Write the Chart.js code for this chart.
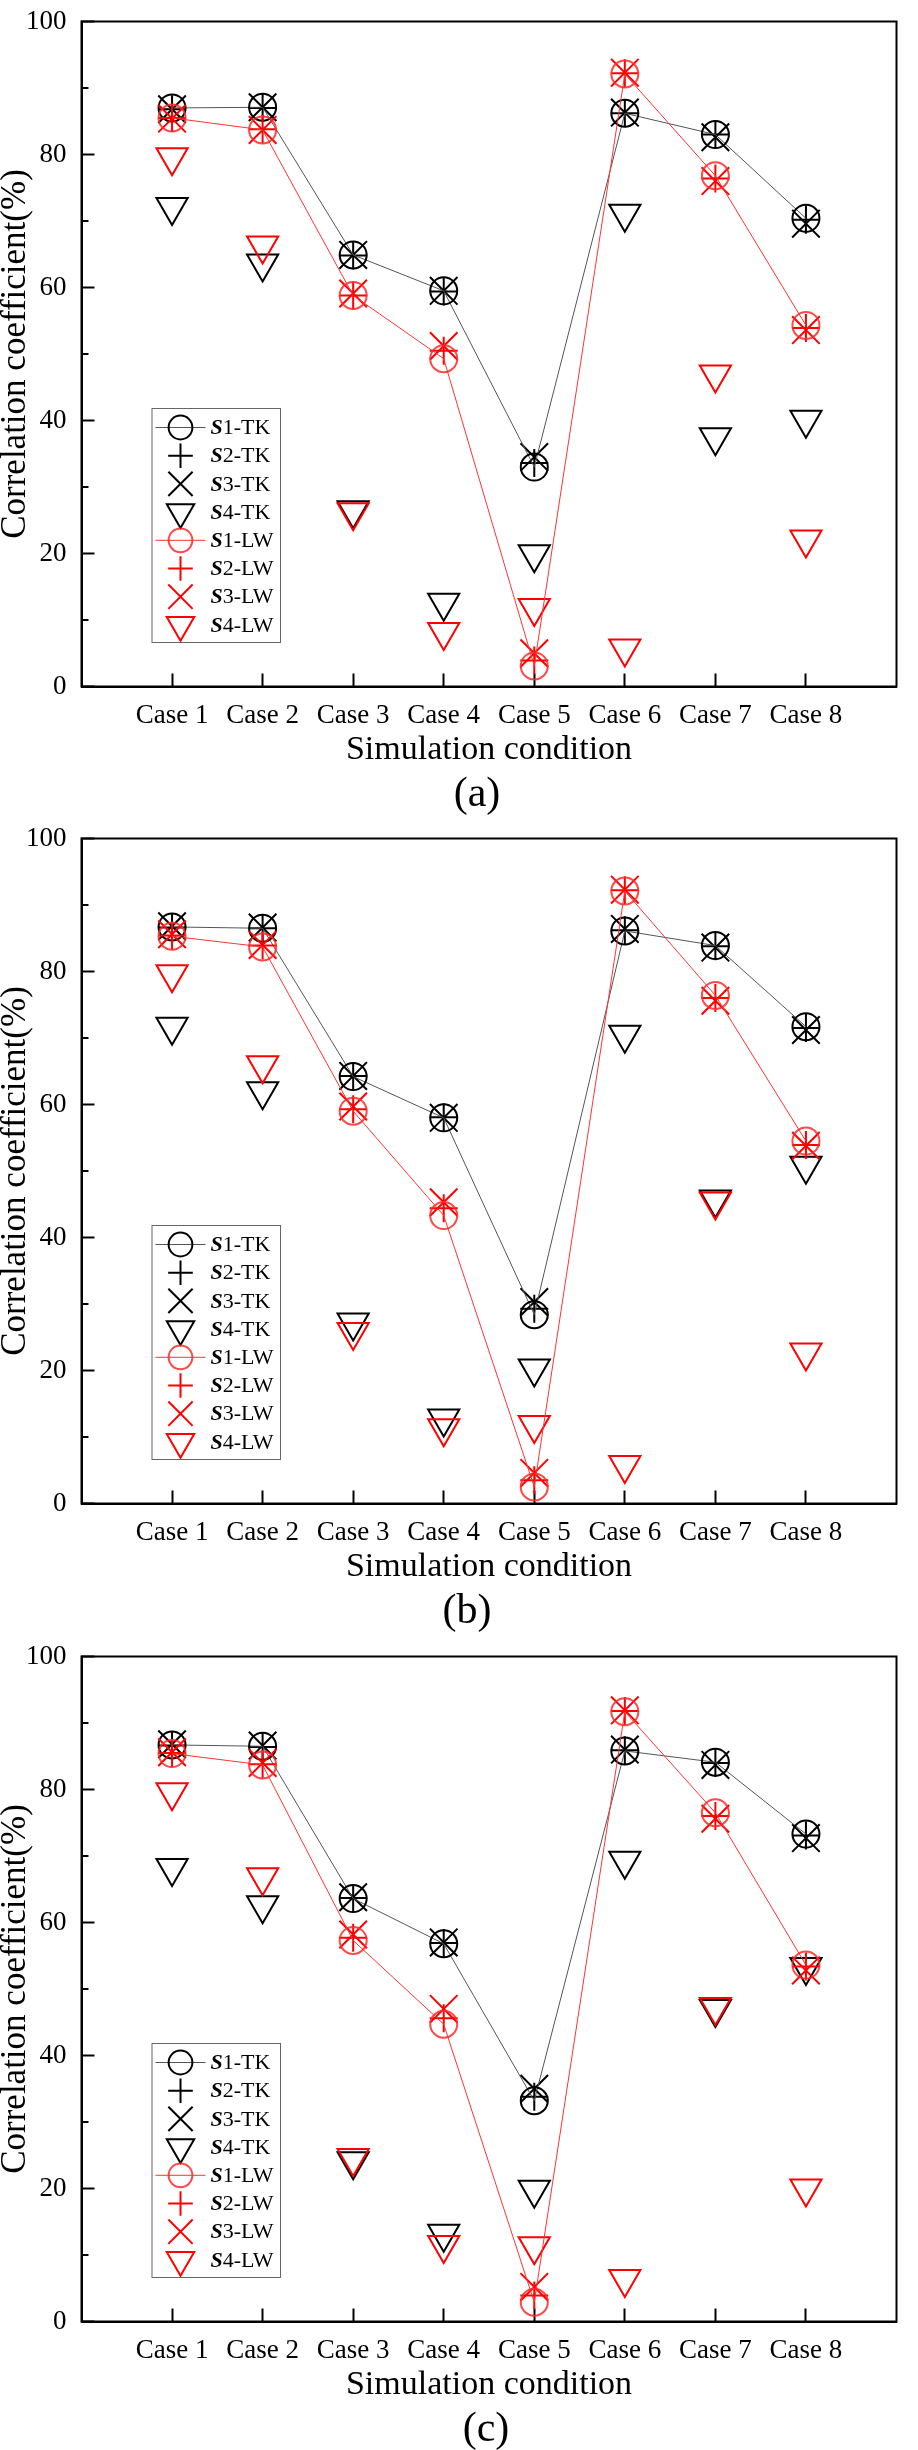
<!DOCTYPE html>
<html>
<head>
<meta charset="utf-8">
<script src="https://cdn.jsdelivr.net/npm/chart.js@4.4.1/dist/chart.umd.min.js"></script>
<style>
  html, body { margin: 0; padding: 0; background: #fff; }
  body { width: 918px; height: 2450px; overflow: hidden; position: relative; }
  .panel { position: absolute; left: 0; width: 918px; height: 817px; }
</style>
</head>
<body>
<div class="panel" style="top:0px"><canvas id="chartA" width="918" height="817"></canvas></div>
<div class="panel" style="top:817px"><canvas id="chartB" width="918" height="817"></canvas></div>
<div class="panel" style="top:1635px"><canvas id="chartC" width="918" height="817"></canvas></div>
<script>
// ---------- data ----------
const categories = ['Case 1', 'Case 2', 'Case 3', 'Case 4', 'Case 5', 'Case 6', 'Case 7', 'Case 8'];
const seriesLabels = ['S1-TK', 'S2-TK', 'S3-TK', 'S4-TK', 'S1-LW', 'S2-LW', 'S3-LW', 'S4-LW'];
const yMajorTicks = [0, 20, 40, 60, 80, 100];
const yMinorTicks = [10, 30, 50, 70, 90];
const panelLabels = ['(a)', '(b)', '(c)'];
const xTitle = 'Simulation condition';
const yTitle = 'Correlation coefficient(%)';

// panel (a)
const a_S1_TK = [87.0, 87.1, 64.9, 59.5, 33.0, 86.2, 83.0, 70.4];
const a_S2_TK = [86.8, 87.0, 64.8, 59.4, 33.6, 86.2, 83.0, 70.2];
const a_S3_TK = [86.8, 87.1, 64.9, 59.5, 34.5, 86.3, 82.6, 69.6];
const a_S4_TK = [72.1, 63.6, 26.5, 12.6, 19.9, 71.1, 37.5, 40.1];
const a_S1_LW = [85.5, 83.7, 58.8, 49.3, 3.1, 92.1, 76.8, 54.3];
const a_S2_LW = [85.5, 83.8, 58.8, 50.5, 3.9, 92.2, 76.4, 53.9];
const a_S3_LW = [85.4, 83.7, 59.1, 51.2, 5.0, 92.3, 76.0, 53.6];
const a_S4_LW = [79.6, 66.3, 26.2, 8.2, 11.8, 5.7, 46.9, 22.1];

// panel (b)
const b_S1_TK = [86.7, 86.5, 64.2, 58.0, 28.4, 86.1, 83.9, 71.7];
const b_S2_TK = [86.6, 86.5, 64.3, 58.1, 29.3, 86.2, 83.8, 71.5];
const b_S3_TK = [86.8, 86.6, 64.3, 58.0, 30.3, 86.4, 83.6, 71.2];
const b_S4_TK = [71.7, 62.0, 27.2, 12.8, 20.3, 70.5, 45.7, 50.8];
const b_S1_LW = [85.3, 83.7, 59.0, 43.3, 2.5, 92.1, 76.4, 54.5];
const b_S2_LW = [85.4, 83.9, 59.3, 44.4, 3.5, 92.2, 76.0, 53.9];
const b_S3_LW = [85.6, 84.0, 59.7, 45.3, 4.6, 92.3, 75.6, 53.8];
const b_S4_LW = [79.6, 65.9, 25.8, 11.3, 11.8, 5.8, 45.4, 22.7];

// panel (c)
const c_S1_TK = [86.7, 86.5, 63.6, 56.8, 33.2, 85.8, 84.1, 73.3];
const c_S2_TK = [86.6, 86.4, 63.7, 56.9, 33.8, 85.9, 84.0, 73.1];
const c_S3_TK = [86.8, 86.6, 63.8, 57.0, 35.0, 86.0, 83.7, 72.7];
const c_S4_TK = [68.2, 62.6, 24.1, 13.2, 19.8, 69.3, 47.0, 53.3];
const c_S1_LW = [85.4, 83.7, 57.3, 44.7, 2.9, 91.7, 76.5, 53.6];
const c_S2_LW = [85.5, 83.8, 57.7, 45.6, 3.9, 91.8, 76.0, 53.4];
const c_S3_LW = [85.6, 84.0, 58.2, 47.0, 5.2, 91.9, 75.6, 52.8];
const c_S4_LW = [79.6, 66.8, 24.6, 11.5, 11.3, 6.4, 47.3, 20.0];

// ---------- styling ----------
const FONT = "'Liberation Serif', 'Times New Roman', serif";
const BLACK = '#000000';
const RED = '#ff0000';
const styles = [
  { style: 'circle',   radius: 13.5, rot: 0,   color: BLACK, line: true,  lineColor: '#555555' },
  { style: 'cross',    radius: 14,   rot: 0,   color: BLACK, line: false },
  { style: 'crossRot', radius: 19.5, rot: 0,   color: BLACK, line: false },
  { style: 'triangle', radius: 18,   rot: 180, color: BLACK, line: false },
  { style: 'circle',   radius: 13.5, rot: 0,   color: 'rgba(255,40,40,0.85)', line: true, lineColor: '#ff3333' },
  { style: 'cross',    radius: 14,   rot: 0,   color: RED,   line: false },
  { style: 'crossRot', radius: 19.5, rot: 0,   color: RED,   line: false },
  { style: 'triangle', radius: 18,   rot: 180, color: RED,   line: false }
];

function drawMarker(ctx, style, x, y, r, rotDeg) {
  ctx.beginPath();
  if (style === 'circle') {
    ctx.arc(x, y, r, 0, Math.PI * 2);
    ctx.closePath();
  } else if (style === 'cross') {
    ctx.moveTo(x - r, y); ctx.lineTo(x + r, y);
    ctx.moveTo(x, y - r); ctx.lineTo(x, y + r);
  } else if (style === 'crossRot') {
    const d = r * Math.SQRT1_2;
    ctx.moveTo(x - d, y - d); ctx.lineTo(x + d, y + d);
    ctx.moveTo(x + d, y - d); ctx.lineTo(x - d, y + d);
  } else if (style === 'triangle') {
    let rad = rotDeg * Math.PI / 180;
    ctx.moveTo(x + Math.sin(rad) * r, y - Math.cos(rad) * r);
    rad += 2 * Math.PI / 3;
    ctx.lineTo(x + Math.sin(rad) * r, y - Math.cos(rad) * r);
    rad += 2 * Math.PI / 3;
    ctx.lineTo(x + Math.sin(rad) * r, y - Math.cos(rad) * r);
    ctx.closePath();
  }
  ctx.stroke();
}

const decorPlugin = {
  id: 'decor',
  afterDraw(chart, args, opts) {
    const { ctx, chartArea: a, scales } = chart;
    const ys = scales.y;
    ctx.save();
    // minor y ticks (inward)
    ctx.strokeStyle = BLACK;
    ctx.lineWidth = 2;
    yMinorTicks.forEach(v => {
      const py = ys.getPixelForValue(v);
      ctx.beginPath();
      ctx.moveTo(a.left, py);
      ctx.lineTo(a.left + 7, py);
      ctx.stroke();
    });
    // full frame
    ctx.strokeRect(a.left, a.top, a.right - a.left, a.bottom - a.top);

    // legend
    const lx = a.left + 70.5, ly = a.top + 387, lw = 128.5, lh = 234;
    ctx.fillStyle = '#ffffff';
    ctx.fillRect(lx, ly, lw, lh);
    ctx.strokeStyle = '#666666';
    ctx.lineWidth = 1;
    ctx.strokeRect(lx, ly, lw, lh);
    const mx = lx + 28.5;
    const tx = lx + 58.5;
    chart.data.datasets.forEach((ds, i) => {
      const st = ds.legendStyle;
      const cy = ly + 19 + i * 28.2;
      if (st.line) {
        ctx.strokeStyle = st.lineColor;
        ctx.lineWidth = 1;
        ctx.beginPath();
        ctx.moveTo(mx - 25, cy);
        ctx.lineTo(mx + 25, cy);
        ctx.stroke();
      }
      ctx.strokeStyle = st.color;
      ctx.lineWidth = 2;
      drawMarker(ctx, st.style, mx, cy, st.radius * 0.88, st.rot);
      const label = ds.label;
      ctx.fillStyle = BLACK;
      ctx.textBaseline = 'middle';
      ctx.textAlign = 'left';
      ctx.font = "italic bold 22px " + FONT;
      const first = label.charAt(0);
      ctx.fillText(first, tx, cy + 1);
      const w = ctx.measureText(first).width;
      ctx.font = "22px " + FONT;
      ctx.fillText(label.slice(1), tx + w, cy + 1);
    });

    // panel label
    ctx.fillStyle = BLACK;
    ctx.font = "42px " + FONT;
    ctx.textAlign = 'center';
    ctx.textBaseline = 'middle';
    ctx.fillText(opts.label, opts.labelX, opts.labelY);
    ctx.restore();
  }
};

function zeroPadding(scale) {
  scale.paddingTop = 0;
  scale.paddingBottom = 0;
  scale.paddingLeft = 0;
  scale.paddingRight = 0;
}

function makePanel(canvasId, seriesList, label, labelX) {
  const datasets = seriesList.map((vals, i) => {
    const st = styles[i];
    return {
      label: seriesLabels[i],
      data: vals.map((v, k) => ({ x: k + 1, y: v })),
      showLine: st.line,
      borderColor: st.line ? st.lineColor : st.color,
      borderWidth: 1,
      pointStyle: st.style,
      pointRadius: st.radius,
      pointRotation: st.rot,
      pointBorderColor: st.color,
      pointBackgroundColor: 'rgba(0,0,0,0)',
      pointBorderWidth: 2,
      fill: false,
      tension: 0,
      order: i < 4 ? 1 : 0,
      clip: false,
      legendStyle: st
    };
  });

  return new Chart(document.getElementById(canvasId), {
    type: 'scatter',
    data: { datasets },
    options: {
      responsive: false,
      animation: false,
      events: [],
      layout: { padding: { top: 11, right: 2, bottom: 0, left: 0 } },
      plugins: {
        legend: { display: false },
        tooltip: { enabled: false },
        decor: { label: label, labelX: labelX, labelY: 795 }
      },
      scales: {
        x: {
          type: 'linear',
          min: 0,
          max: 9,
          afterBuildTicks: (scale) => {
            scale.ticks = categories.map((c, k) => ({ value: k + 1 }));
          },
          afterFit: (scale) => { scale.height = 130.5; zeroPadding(scale); },
          ticks: {
            autoSkip: false,
            maxRotation: 0,
            color: BLACK,
            font: { family: FONT, size: 27 },
            padding: 26,
            callback: (value, index) => categories[index]
          },
          grid: {
            drawOnChartArea: false,
            drawTicks: true,
            tickLength: -13,
            tickWidth: 2,
            tickColor: BLACK
          },
          border: { display: true, color: BLACK, width: 2 },
          title: {
            display: true,
            text: xTitle,
            color: BLACK,
            font: { family: FONT, size: 34, lineHeight: 1.2 },
            padding: { top: 0, bottom: 47 }
          }
        },
        y: {
          type: 'linear',
          min: 0,
          max: 100,
          afterBuildTicks: (scale) => {
            scale.ticks = yMajorTicks.map(v => ({ value: v }));
          },
          afterFit: (scale) => { scale.width = 81.5; zeroPadding(scale); },
          ticks: {
            color: BLACK,
            font: { family: FONT, size: 27 },
            padding: 28,
            callback: (value) => String(value)
          },
          grid: {
            drawOnChartArea: false,
            drawTicks: true,
            tickLength: -13,
            tickWidth: 2,
            tickColor: BLACK
          },
          border: { display: true, color: BLACK, width: 2 },
          title: {
            display: true,
            text: yTitle,
            color: BLACK,
            font: { family: FONT, size: 35, lineHeight: 0.9 },
            padding: { top: 0, bottom: 0 }
          }
        }
      }
    },
    plugins: [decorPlugin]
  });
}

makePanel('chartA', [a_S1_TK, a_S2_TK, a_S3_TK, a_S4_TK, a_S1_LW, a_S2_LW, a_S3_LW, a_S4_LW], panelLabels[0], 477);
makePanel('chartB', [b_S1_TK, b_S2_TK, b_S3_TK, b_S4_TK, b_S1_LW, b_S2_LW, b_S3_LW, b_S4_LW], panelLabels[1], 467);
makePanel('chartC', [c_S1_TK, c_S2_TK, c_S3_TK, c_S4_TK, c_S1_LW, c_S2_LW, c_S3_LW, c_S4_LW], panelLabels[2], 486);
</script>
</body>
</html>
